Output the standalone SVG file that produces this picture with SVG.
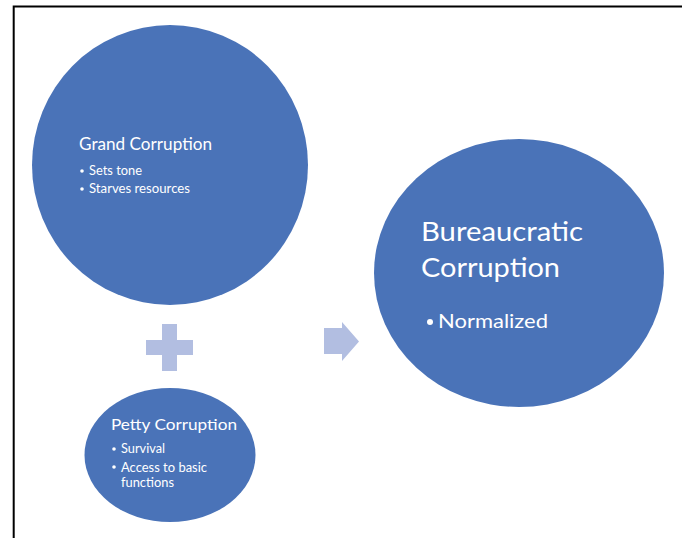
<svg xmlns="http://www.w3.org/2000/svg" width="683" height="538" viewBox="0 0 683 538">
<style>
.node{fill:#4a73b8}
.t{font-family:Lato,"Liberation Sans",sans-serif;fill:#ffffff}
.conn{fill:#b2bee1}
</style>
<rect x="0" y="0" width="683" height="538" fill="#ffffff"/>
<path d="M13.7,538 V6.5 H682" fill="none" stroke="#000000" stroke-width="2"/>
<g id="grand">
<ellipse class="node" cx="170" cy="165" rx="138" ry="140"/>
<text class="t" x="79" y="150" font-size="16.5" textLength="133" lengthAdjust="spacingAndGlyphs">Grand Corruption</text>
<circle cx="82" cy="171" r="1.8" fill="#fff"/>
<text class="t" x="89" y="175" font-size="12.5" textLength="53" lengthAdjust="spacingAndGlyphs">Sets tone</text>
<circle cx="82" cy="189" r="1.8" fill="#fff"/>
<text class="t" x="89" y="193" font-size="12.5" textLength="101" lengthAdjust="spacingAndGlyphs">Starves resources</text>
</g>
<g id="petty">
<ellipse class="node" cx="170" cy="455" rx="85.5" ry="67"/>
<text class="t" x="111" y="430" font-size="16" textLength="126" lengthAdjust="spacingAndGlyphs">Petty Corruption</text>
<circle cx="114" cy="449" r="1.8" fill="#fff"/>
<text class="t" x="121" y="453" font-size="12.5" textLength="44" lengthAdjust="spacingAndGlyphs">Survival</text>
<circle cx="114" cy="467" r="1.8" fill="#fff"/>
<text class="t" x="121" y="472" font-size="12.5" textLength="86" lengthAdjust="spacingAndGlyphs">Access to basic</text>
<text class="t" x="121" y="487" font-size="12.5" textLength="53" lengthAdjust="spacingAndGlyphs">functions</text>
</g>
<g id="bureaucratic">
<ellipse class="node" cx="519" cy="273" rx="145" ry="134"/>
<text class="t" x="421" y="241" font-size="27.5" textLength="162" lengthAdjust="spacingAndGlyphs">Bureaucratic</text>
<text class="t" x="421" y="277" font-size="27.5" textLength="139" lengthAdjust="spacingAndGlyphs">Corruption</text>
<circle cx="430" cy="322" r="3" fill="#fff"/>
<text class="t" x="438" y="328" font-size="20" textLength="110" lengthAdjust="spacingAndGlyphs">Normalized</text>
</g>
<g id="connectors">
<path class="conn" d="M162,324 H177 V340 H193 V355 H177 V371 H162 V355 H146 V340 H162 Z"/>
<path class="conn" d="M324,328 H342 V322 L359,341.5 L342,361 V354 H324 Z"/>
</g>
</svg>
